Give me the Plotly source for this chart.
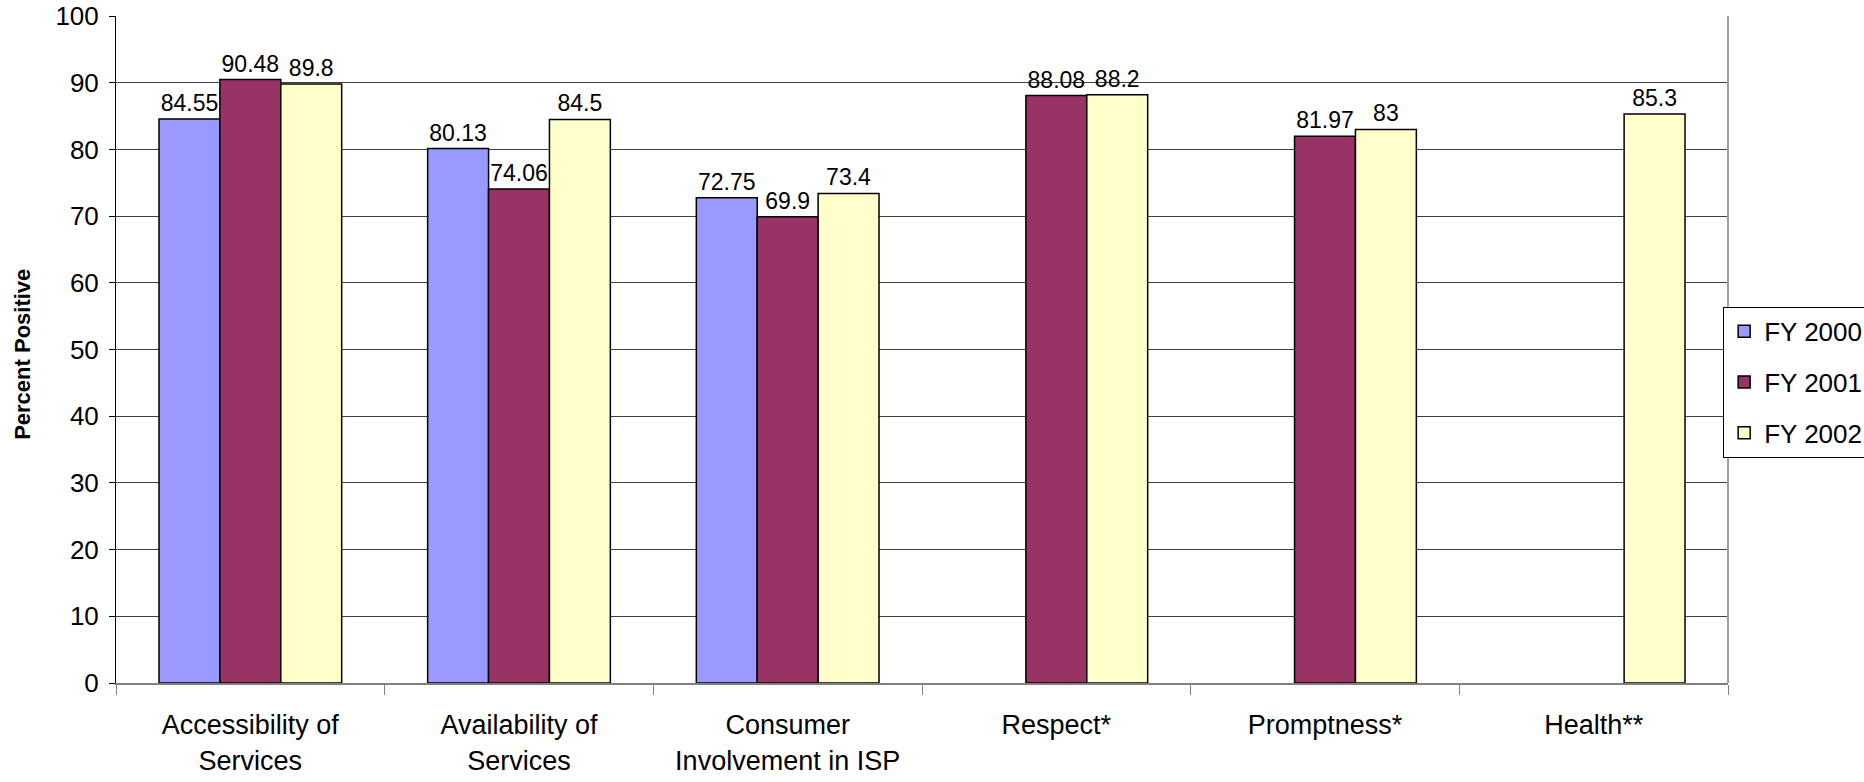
import plotly.graph_objects as go

categories = ["Accessibility of<br>Services", "Availability of<br>Services",
              "Consumer<br>Involvement in ISP", "Respect*", "Promptness*", "Health**"]
fy2000 = [84.55, 80.13, 72.75, None, None, None]
fy2001 = [90.48, 74.06, 69.9, 88.08, 81.97, None]
fy2002 = [89.8, 84.5, 73.4, 88.2, 83, 85.3]
series_names = ["FY 2000", "FY 2001", "FY 2002"]
series_colors = ["#9999FF", "#993366", "#FFFFCC"]

FONT = "Liberation Sans, Arial, sans-serif"

fig = go.Figure()
for i, (name, vals, col) in enumerate(zip(series_names, [fy2000, fy2001, fy2002], series_colors)):
    fig.add_trace(go.Bar(
        x=categories, y=vals, name=name,
        marker=dict(color=col, line=dict(color="black", width=1.5)),
        text=[("" if v is None else f"{v:g}") for v in vals],
        textposition="outside", cliponaxis=False,
        textfont=dict(size=23, color="black", family=FONT),
        legendgroup=f"g{i}",
    ))

fig.update_layout(
    width=1864, height=782,
    margin=dict(l=116, r=136, t=16, b=99, autoexpand=False),
    paper_bgcolor="white", plot_bgcolor="white",
    barmode="group", bargap=0.32, bargroupgap=0,
    font=dict(family=FONT, color="black"),
    legend=dict(x=0.997, y=0.564, xanchor="left", yanchor="top",
                bordercolor="black", borderwidth=1, bgcolor="white",
                font=dict(size=26, family=FONT, color="black"),
                traceorder="grouped", tracegroupgap=14),
    xaxis=dict(type="category", tickson="boundaries", ticks="outside", ticklen=10,
               tickcolor="#808080", tickwidth=1, showline=True, linecolor="#808080",
               linewidth=2, tickfont=dict(size=27, family=FONT, color="black"),
               ticklabelstandoff=17, showgrid=False),
    yaxis=dict(range=[0, 100], dtick=10, ticks="outside", ticklen=6, tickcolor="black",
               showline=True, linecolor="black", linewidth=1,
               showgrid=True, gridcolor="#404040", gridwidth=1,
               tickfont=dict(size=26, family=FONT, color="black"),
               ticklabelstandoff=5, zeroline=False),
    showlegend=True,
)

fig.add_shape(type="line", xref="paper", yref="paper", x0=1, x1=1, y0=0, y1=1,
              line=dict(color="#A0A0A0", width=2))
fig.add_annotation(text="<b>Percent Positive</b>", xref="paper", yref="paper",
                   x=-0.0585, y=0.493, xanchor="center", yanchor="middle",
                   textangle=-90, showarrow=False,
                   font=dict(size=22, family=FONT, color="black"))

fig.write_html("out.html")
